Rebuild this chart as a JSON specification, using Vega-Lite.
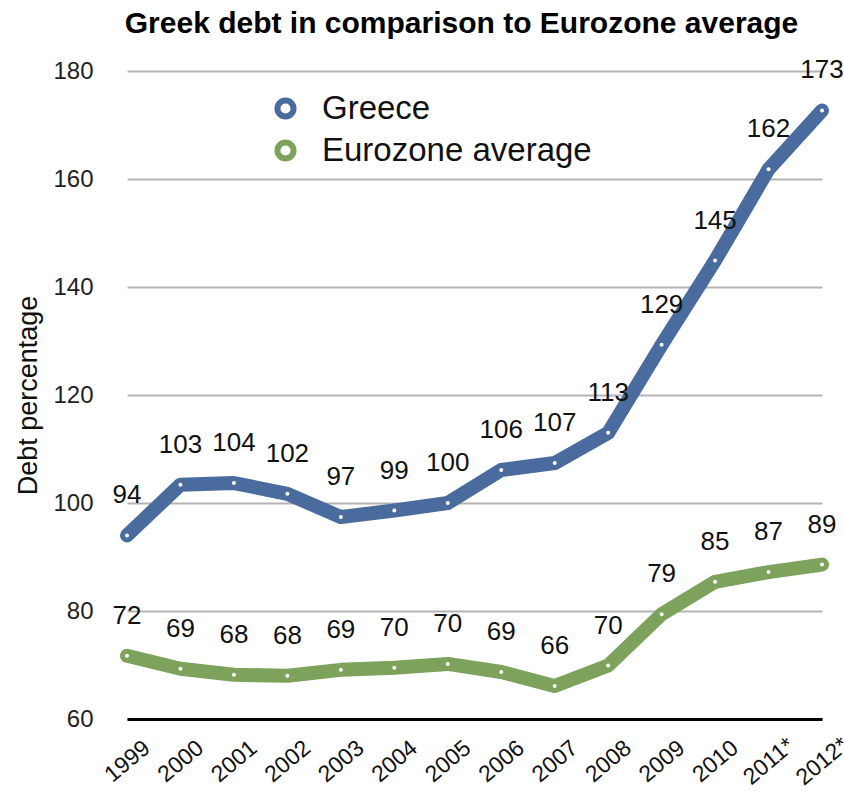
{
  "$schema": "https://vega.github.io/schema/vega-lite/v6.json",
  "width": 695,
  "height": 648,
  "autosize": {"type": "none"},
  "padding": {"left": 127, "top": 71, "right": 22, "bottom": 75},
  "background": "white",
  "title": {"text": "Greek debt in comparison to Eurozone average", "fontSize": 30, "fontWeight": "bold", "font": "Liberation Sans", "color": "#000", "offset": 18, "dx": -13, "anchor": "middle"},
  "config": {
    "view": {"stroke": null},
    "font": "Liberation Sans"
  },
  "data": {"values": [
    {"year": "1999", "series": "Greece", "value": 94.0},
    {"year": "2000", "series": "Greece", "value": 103.4},
    {"year": "2001", "series": "Greece", "value": 103.7},
    {"year": "2002", "series": "Greece", "value": 101.7},
    {"year": "2003", "series": "Greece", "value": 97.4},
    {"year": "2004", "series": "Greece", "value": 98.6},
    {"year": "2005", "series": "Greece", "value": 100.0},
    {"year": "2006", "series": "Greece", "value": 106.1},
    {"year": "2007", "series": "Greece", "value": 107.4},
    {"year": "2008", "series": "Greece", "value": 113.0},
    {"year": "2009", "series": "Greece", "value": 129.3},
    {"year": "2010", "series": "Greece", "value": 144.9},
    {"year": "2011*", "series": "Greece", "value": 161.8},
    {"year": "2012*", "series": "Greece", "value": 172.7},
    {"year": "1999", "series": "Eurozone average", "value": 71.7},
    {"year": "2000", "series": "Eurozone average", "value": 69.3},
    {"year": "2001", "series": "Eurozone average", "value": 68.2},
    {"year": "2002", "series": "Eurozone average", "value": 68.0},
    {"year": "2003", "series": "Eurozone average", "value": 69.1},
    {"year": "2004", "series": "Eurozone average", "value": 69.5},
    {"year": "2005", "series": "Eurozone average", "value": 70.2},
    {"year": "2006", "series": "Eurozone average", "value": 68.7},
    {"year": "2007", "series": "Eurozone average", "value": 66.1},
    {"year": "2008", "series": "Eurozone average", "value": 69.9},
    {"year": "2009", "series": "Eurozone average", "value": 79.4},
    {"year": "2010", "series": "Eurozone average", "value": 85.4},
    {"year": "2011*", "series": "Eurozone average", "value": 87.2},
    {"year": "2012*", "series": "Eurozone average", "value": 88.6}
  ]},
  "encoding": {
    "x": {"field": "year", "type": "ordinal", "scale": {"type": "point", "padding": 0},
      "axis": {"title": null, "labelAngle": -40, "labelAlign": "center", "labelBaseline": "middle", "labelPadding": 42, "labelFontSize": 23, "labelColor": "#111", "labelOverlap": false, "labelBound": false, "ticks": false, "domain": true, "domainColor": "#000", "domainWidth": 3, "grid": false}},
    "y": {"field": "value", "type": "quantitative", "scale": {"domain": [60, 180], "nice": false, "zero": false},
      "axis": {"title": "Debt percentage", "titleFontSize": 27, "titleFontWeight": "normal", "titleColor": "#111", "titlePadding": 10, "values": [60, 80, 100, 120, 140, 160, 180], "labelFontSize": 24, "labelColor": "#222", "labelPadding": 34, "ticks": false, "domain": false, "grid": true, "gridColor": "#b3b3b3", "gridWidth": 2}}
  },
  "layer": [
    {
      "mark": {"type": "line", "strokeWidth": 14, "strokeCap": "round", "strokeJoin": "round"},
      "encoding": {
        "color": {"field": "series", "type": "nominal", "sort": ["Greece", "Eurozone average"],
          "scale": {"domain": ["Greece", "Eurozone average"], "range": ["#4a6b9d", "#7ca25b"]},
          "legend": {"title": null, "orient": "none", "legendX": 142, "legendY": 21, "symbolType": "circle", "symbolSize": 260, "symbolStrokeWidth": 6, "symbolFillColor": "white", "labelFontSize": 33, "labelLimit": 0, "labelColor": "#111", "labelOffset": 20, "rowPadding": 1}}
      }
    },
    {
      "mark": {"type": "point", "filled": true, "color": "white", "size": 16, "opacity": 1}
    },
    {
      "mark": {"type": "text", "dy": -40, "fontSize": 26, "color": "#111"},
      "encoding": {"text": {"field": "value", "type": "quantitative", "format": ".0f"}}
    }
  ]
}
